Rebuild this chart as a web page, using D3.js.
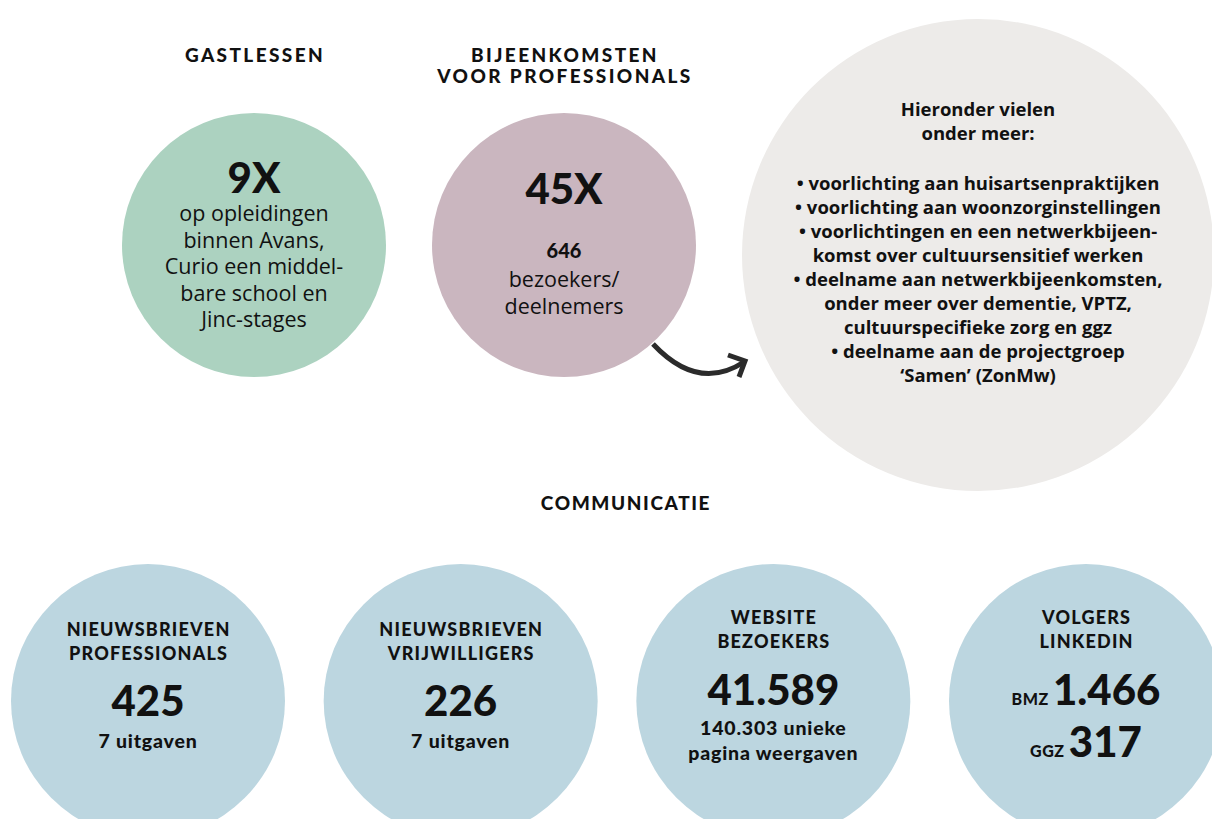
<!DOCTYPE html>
<head>
    <meta charset="utf-8">
    <title>Activiteiten en communicatie</title>
    <script type="text/javascript" src="https://d3js.org/d3.v7.min.js"></script>
    <style>
        body { margin: 0; background: #fff; }
        svg { display: block; font-family: Lato, "Open Sans", sans-serif; }
        .body { font-family: "Open Sans", Lato, sans-serif; }
    </style>
</head>
<body>
<div id="container"></div>

<script>
    //------------------------1. DATA------------------------//
    // top row: the two activity circles
    const topTitles = [["GASTLESSEN"], ["BIJEENKOMSTEN", "VOOR PROFESSIONALS"]];
    const topBig = ["9X", "45X"];
    const topSub = ["", "646"];
    const topLines = [
        ["op opleidingen", "binnen Avans,", "Curio een middel-", "bare school en", "Jinc-stages"],
        ["bezoekers/", "deelnemers"]
    ];
    const topColors = ["#acd2c0", "#cab6bf"];

    // the big grey circle
    const introLines = ["Hieronder vielen", "onder meer:"];
    const bulletLines = [
        "• voorlichting aan huisartsenpraktijken",
        "• voorlichting aan woonzorginstellingen",
        "• voorlichtingen en een netwerkbijeen-",
        "komst over cultuursensitief werken",
        "• deelname aan netwerkbijeenkomsten,",
        "onder meer over dementie, VPTZ,",
        "cultuurspecifieke zorg en ggz",
        "• deelname aan de projectgroep",
        "‘Samen’ (ZonMw)"
    ];

    // bottom row: communication
    const commTitle = "COMMUNICATIE";
    const commLabels = [
        ["NIEUWSBRIEVEN", "PROFESSIONALS"],
        ["NIEUWSBRIEVEN", "VRIJWILLIGERS"],
        ["WEBSITE", "BEZOEKERS"],
        ["VOLGERS", "LINKEDIN"]
    ];
    const commValues = [["425"], ["226"], ["41.589"], ["1.466", "317"]];
    const commPrefix = [[""], [""], [""], ["BMZ", "GGZ"]];
    const commNotes = [["7 uitgaven"], ["7 uitgaven"], ["140.303 unieke", "pagina weergaven"], []];
    const commColor = "#bcd6e0";

    //------------------------2. SVG------------------------//
    const width = 1212;
    const height = 819;
    const svg = d3.select("#container").append("svg")
        .attr("width", width)
        .attr("height", height);

    //------------------------3. SCALES------------------------//
    const xTop = d3.scalePoint().domain(d3.range(topBig.length)).range([254, 564]);
    const xBottom = d3.scalePoint().domain(d3.range(commLabels.length)).range([148, 1086]);
    const rTop = 132;
    const rBottom = 137;

    // centred text helper
    function label(g, y, t, size, weight, spacing) {
        return g.append("text").attr("y", y).text(t)
            .attr("text-anchor", "middle")
            .style("font-size", size + "px").style("font-weight", weight)
            .style("letter-spacing", (spacing || 0) + "px")
            .style("fill", "#111");
    }

    //------------------------4. TOP CIRCLES------------------------//
    const tops = svg.selectAll("g.top")
        .data(topBig.map((d, i) => i))
        .enter().append("g")
        .attr("class", "top")
        .attr("transform", i => "translate(" + xTop(i) + ",0)");

    tops.append("circle")
        .attr("cy", 245)
        .attr("r", rTop)
        .style("fill", i => topColors[i]);

    tops.each(function(i) {
        const g = d3.select(this);
        topTitles[i].forEach(function(t, k) {
            label(g, 62 + k * 21, t, 19, 900, 2.4).attr("dx", 1);
        });
        label(g, i === 0 ? 193 : 204, topBig[i], 42, 900);
        let y0 = 221;
        if (topSub[i]) {
            label(g, 258, topSub[i], 20, 900);
            y0 = 287;
        }
        topLines[i].forEach(function(t, k) {
            label(g, y0 + k * 26.5, t, 21.5, 400).attr("class", "body");
        });
    });

    //------------------------5. GREY CIRCLE + ARROW------------------------//
    const grey = svg.append("g").attr("transform", "translate(978,0)");
    grey.append("circle").attr("cy", 255).attr("r", 236).style("fill", "#edebe9");
    introLines.forEach(function(t, k) {
        label(grey, 116 + k * 24, t, 18.5, 700).attr("class", "body");
    });
    bulletLines.forEach(function(t, k) {
        label(grey, 190 + k * 24, t, 18.5, 700).attr("class", "body");
    });

    const arrow = d3.path();
    arrow.moveTo(653, 344);
    arrow.quadraticCurveTo(698, 392, 744, 362);
    svg.append("path").attr("d", arrow.toString())
        .style("fill", "none").style("stroke", "#2b2b2b").style("stroke-width", 5);
    svg.append("path").attr("d", "M728,355 L745,361 L739,377")
        .style("fill", "none").style("stroke", "#2b2b2b").style("stroke-width", 5)
        .style("stroke-linejoin", "miter");

    //------------------------6. COMMUNICATION ROW------------------------//
    label(svg, 510, commTitle, 19, 900, 1.6).attr("x", 626);

    const comm = svg.selectAll("g.comm")
        .data(commLabels.map((d, i) => i))
        .enter().append("g")
        .attr("class", "comm")
        .attr("transform", i => "translate(" + xBottom(i) + ",0)");

    comm.append("circle").attr("cy", 701).attr("r", rBottom).style("fill", commColor);

    comm.each(function(i) {
        const g = d3.select(this);
        const yLab = i < 2 ? 636 : 624;
        commLabels[i].forEach(function(t, k) {
            label(g, yLab + k * 24, t, 18, 900, 1.2).attr("dx", 0.6);
        });
        const yVal = i < 2 ? 716 : 705;
        commValues[i].forEach(function(v, k) {
            const t = label(g, yVal + k * 52, "", 42, 900);
            if (commPrefix[i][k]) {
                t.append("tspan").text(commPrefix[i][k] + " ")
                    .style("font-size", "16px").style("letter-spacing", "0.5px");
            }
            t.append("tspan").text(v);
        });
        const yNote = i < 2 ? 748 : 735;
        commNotes[i].forEach(function(t, k) {
            label(g, yNote + k * 25, t, 19.5, 900, 0.8);
        });
    });
</script>
</body>
